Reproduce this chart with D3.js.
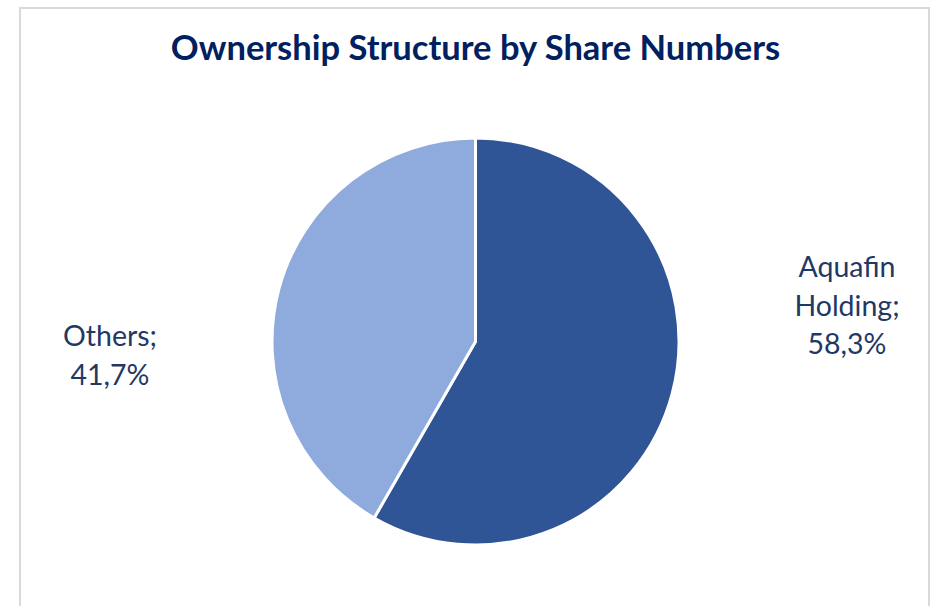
<!DOCTYPE html>
<html>
<head>
<meta charset="utf-8">
<script src="https://cdn.jsdelivr.net/npm/d3@7"></script>
<style>
  html, body { margin: 0; padding: 0; background: #fff; }
  svg { display: block; }
</style>
</head>
<body>
<div id="chart"></div>
<script>
// chart data
var categories = ['Aquafin Holding', 'Others'];
var shares = [58.3, 41.7];
var labelLines = [['Aquafin', 'Holding;', '58,3%'], ['Others;', '41,7%']];
var sliceColors = ['#2f5597', '#8faadc'];

var width = 939, height = 606;
var cx = 475.5, cy = 341.5, radius = 203.5;

var svg = d3.select('#chart')
    .append('svg')
    .attr('width', width)
    .attr('height', height);

// chart area frame
svg.append('rect')
    .attr('x', 20).attr('y', 8)
    .attr('width', 909).attr('height', 620)
    .attr('fill', '#fff')
    .attr('stroke', '#d9d9d9')
    .attr('stroke-width', 2);

svg.append('text')
    .attr('x', cx).attr('y', 60)
    .attr('text-anchor', 'middle')
    .attr('font-family', 'Lato, "Open Sans", sans-serif')
    .attr('font-weight', 'bold')
    .attr('font-size', 34.5)
    .attr('fill', '#002060')
    .text('Ownership Structure by Share Numbers');

var data = categories.map(function (c, i) {
    return { name: c, value: shares[i], lines: labelLines[i] };
});

var pie = d3.pie()
    .value(function (d) { return d.value; })
    .sort(null)
    .startAngle(0)
    .endAngle(2 * Math.PI)(data);

var arc = d3.arc().innerRadius(0).outerRadius(radius);
var color = d3.scaleOrdinal().domain(categories).range(sliceColors);

var g = svg.append('g')
    .attr('transform', 'translate(' + cx + ',' + cy + ')');

g.selectAll('path').data(pie).enter().append('path')
    .attr('d', arc)
    .attr('fill', function (d) { return color(d.data.name); })
    .attr('stroke', '#fff')
    .attr('stroke-width', 3)
    .attr('stroke-linejoin', 'round');

// labels sit outside the pie on the side of the slice centroid
var labelGap = { 'Aquafin Holding': 168, 'Others': 162 };
var labelShift = { 'Aquafin Holding': -35, 'Others': 15 };
var lineHeight = 38.5;

var labels = g.selectAll('text.lbl').data(pie).enter().append('text')
    .attr('class', 'lbl')
    .attr('text-anchor', 'middle')
    .attr('font-family', 'Lato, "Open Sans", sans-serif')
    .attr('font-size', 28.5)
    .attr('fill', '#1f3864')
    .attr('transform', function (d) {
        var side = arc.centroid(d)[0] > 0 ? 1 : -1;
        var n = d.data.lines.length;
        var y = labelShift[d.data.name] - (n - 1) * lineHeight / 2 + 9;
        return 'translate(' + side * (radius + labelGap[d.data.name]) + ',' + y + ')';
    });

labels.selectAll('tspan').data(function (d) { return d.data.lines; })
    .enter().append('tspan')
    .attr('x', 0)
    .attr('dy', function (t, i) { return i === 0 ? 0 : lineHeight; })
    .text(function (t) { return t; });
</script>
</body>
</html>
